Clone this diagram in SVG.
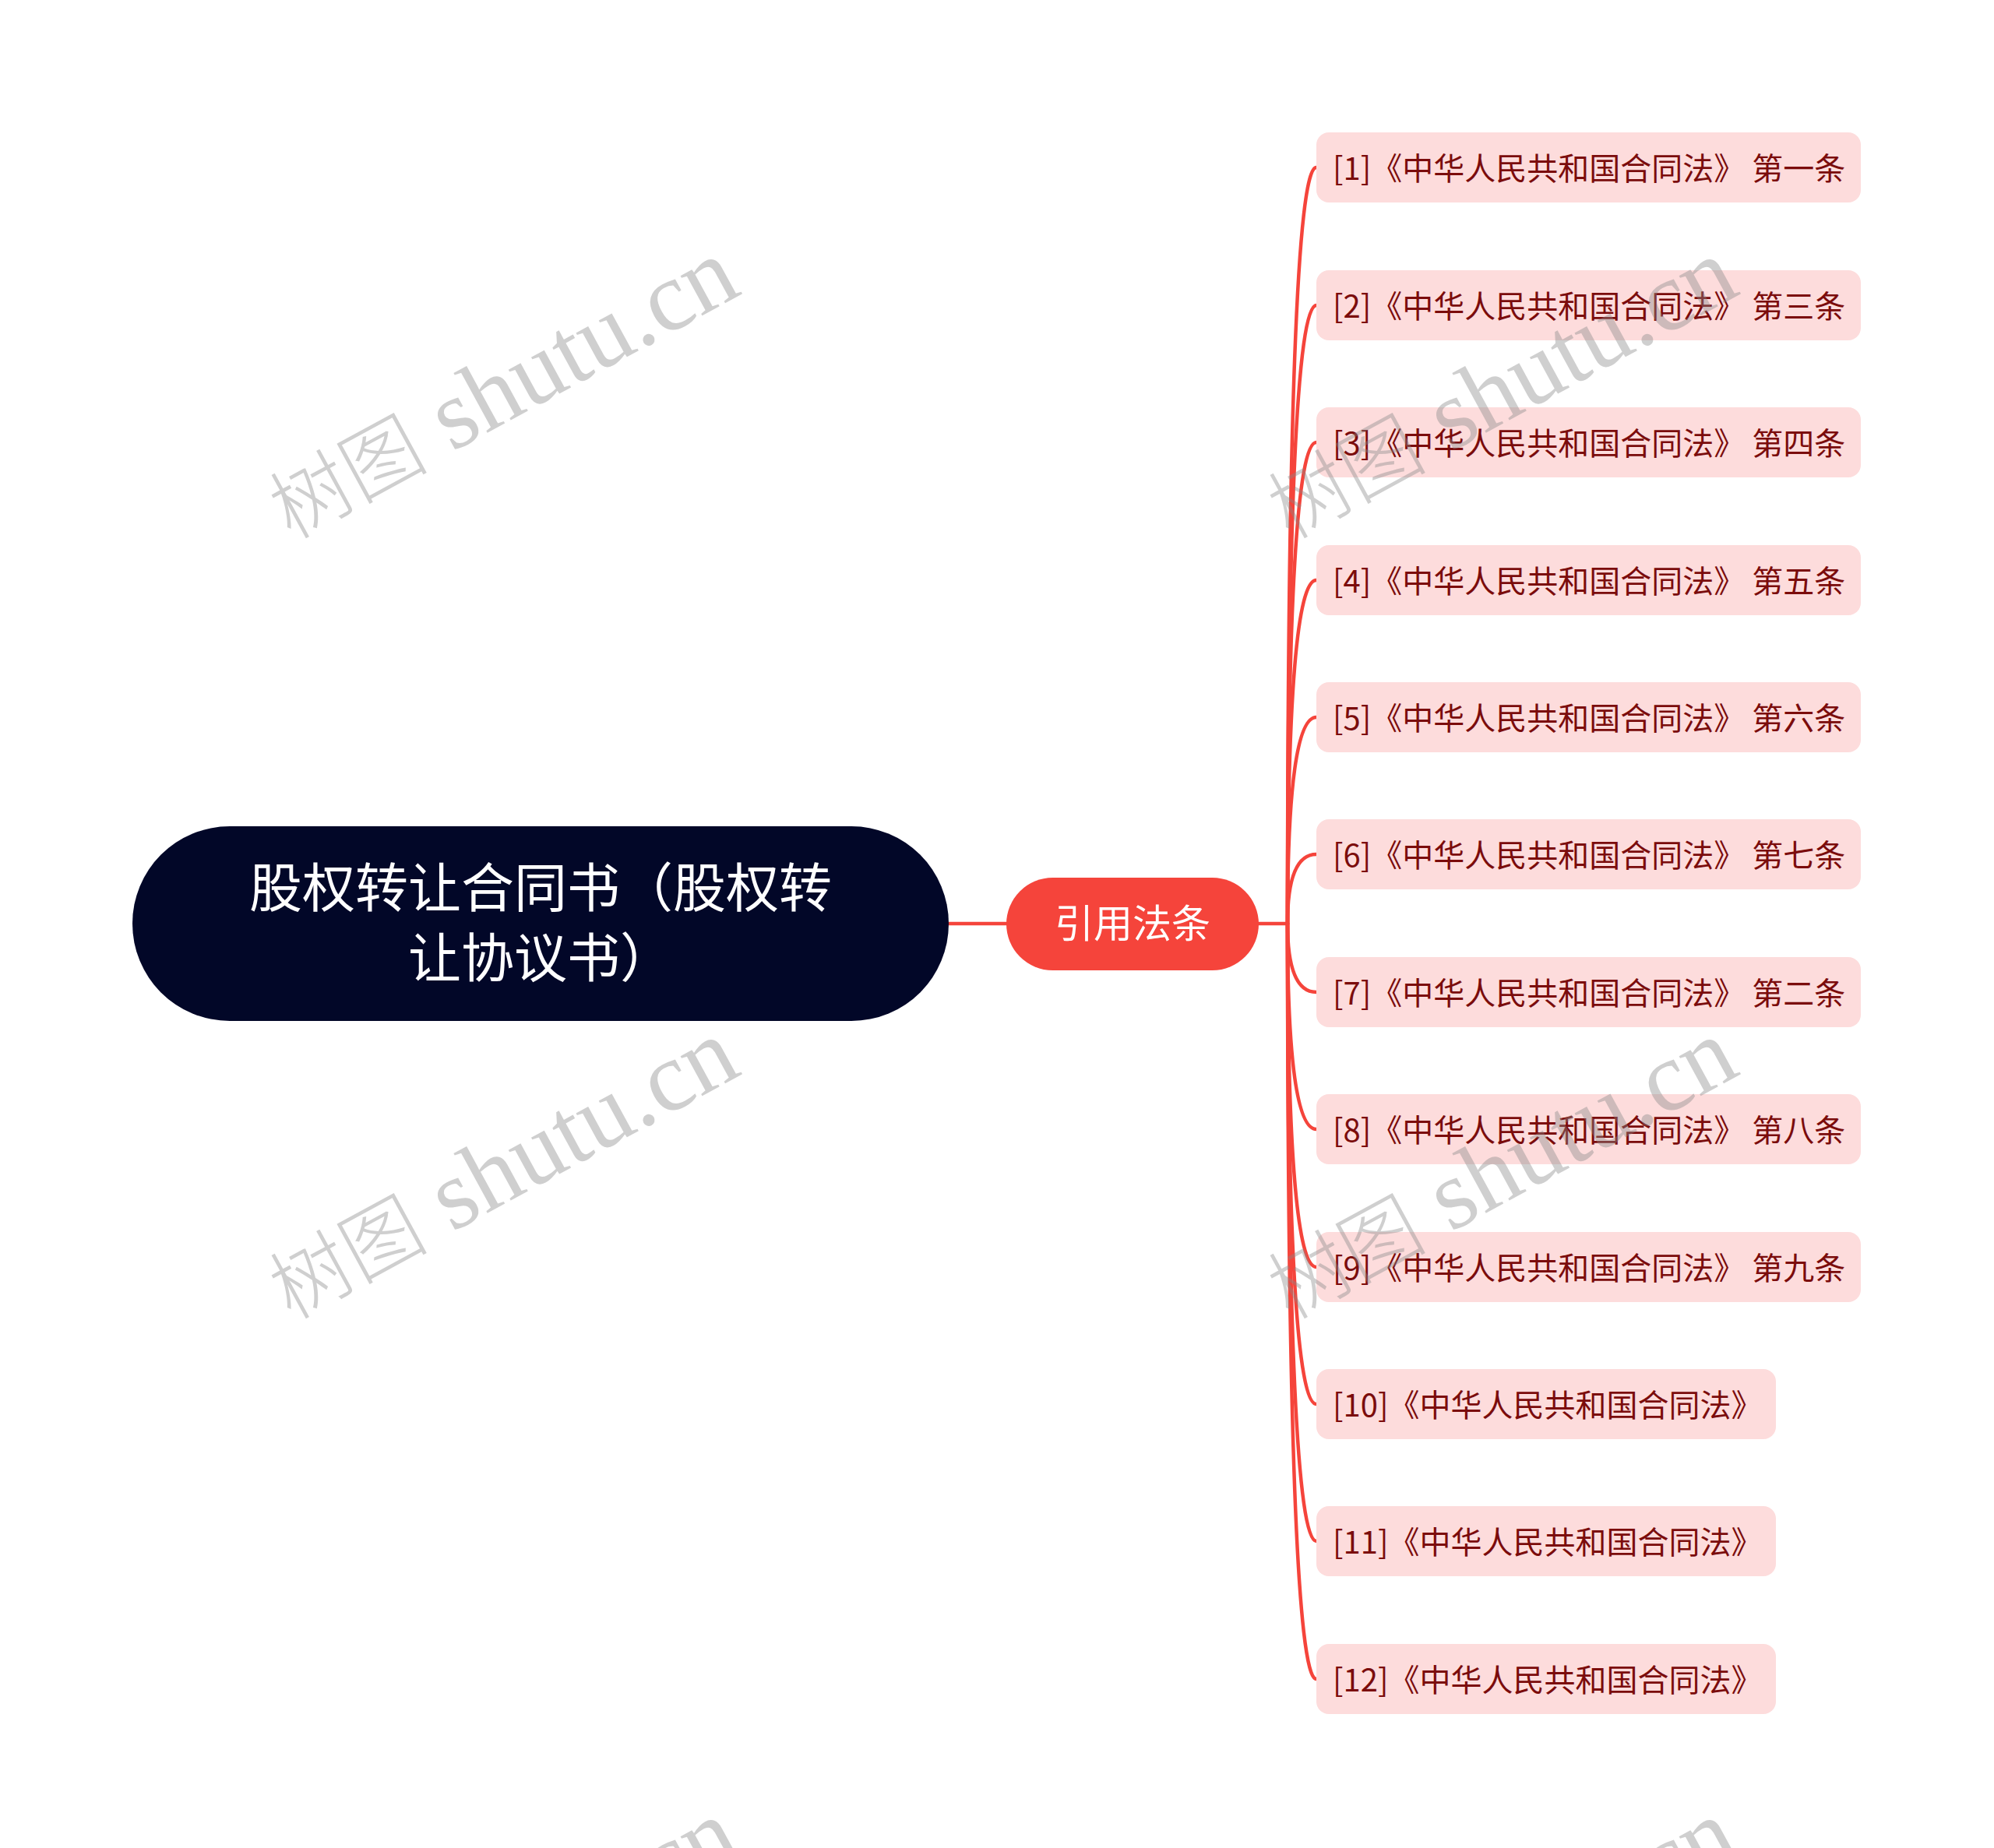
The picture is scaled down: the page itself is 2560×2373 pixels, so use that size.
<svg xmlns="http://www.w3.org/2000/svg" width="2560" height="2373" viewBox="0 0 2560 2373">
<style>
.cjk{font-family:"Noto Sans CJK SC","Noto Sans",sans-serif}
.root-bg{fill:#020728}
.root-tx{fill:#ffffff;font-size:68px;text-anchor:middle}
.mid-bg{fill:#f5443b}
.mid-tx{fill:#ffffff;font-size:50px;text-anchor:middle}
.leaf-bg{fill:#fddcdc}
.leaf-tx{fill:#7b0c0c;font-size:40px}
.conn{fill:none;stroke:#f5443b;stroke-width:4.5;stroke-linecap:round}
.wm{font-family:"Liberation Serif","Noto Sans CJK SC",serif;font-size:127px;fill:#888888;opacity:0.4;text-anchor:middle}
.wm .c{font-size:102px;font-weight:300}
</style>
<rect width="2560" height="2373" fill="#ffffff"/>
<g id="connectors">
<path class="conn" d="M1218 1186 L1292 1186"/>
<path class="conn" d="M1616 1186 L1653 1186"/>
<path class="conn" d="M1653 1186 Q1653 215 1690 215"/>
<path class="conn" d="M1653 1186 Q1653 392 1690 392"/>
<path class="conn" d="M1653 1186 Q1653 568 1690 568"/>
<path class="conn" d="M1653 1186 Q1653 745 1690 745"/>
<path class="conn" d="M1653 1186 Q1653 921 1690 921"/>
<path class="conn" d="M1653 1186 Q1653 1097 1690 1097"/>
<path class="conn" d="M1653 1186 Q1653 1274 1690 1274"/>
<path class="conn" d="M1653 1186 Q1653 1450 1690 1450"/>
<path class="conn" d="M1653 1186 Q1653 1627 1690 1627"/>
<path class="conn" d="M1653 1186 Q1653 1803 1690 1803"/>
<path class="conn" d="M1653 1186 Q1653 1979 1690 1979"/>
<path class="conn" d="M1653 1186 Q1653 2156 1690 2156"/>
</g>
<g id="root">
<rect class="root-bg" x="170" y="1061" width="1048" height="250" rx="125"/>
<text class="cjk root-tx" x="694" y="1165">股权转让合同书（股权转</text>
<text class="cjk root-tx" x="694" y="1255">让协议书）</text>
</g>
<g id="topic">
<rect class="mid-bg" x="1292" y="1127" width="324" height="119" rx="59.5"/>
<text class="cjk mid-tx" x="1454" y="1204">引用法条</text>
</g>
<g id="leaf1"><rect class="leaf-bg" x="1690" y="170" width="699" height="90" rx="16"/><text class="cjk leaf-tx" x="1711" y="231">[1]《中华人民共和国合同法》 第一条</text></g>
<g id="leaf2"><rect class="leaf-bg" x="1690" y="347" width="699" height="90" rx="16"/><text class="cjk leaf-tx" x="1711" y="408">[2]《中华人民共和国合同法》 第三条</text></g>
<g id="leaf3"><rect class="leaf-bg" x="1690" y="523" width="699" height="90" rx="16"/><text class="cjk leaf-tx" x="1711" y="584">[3]《中华人民共和国合同法》 第四条</text></g>
<g id="leaf4"><rect class="leaf-bg" x="1690" y="700" width="699" height="90" rx="16"/><text class="cjk leaf-tx" x="1711" y="761">[4]《中华人民共和国合同法》 第五条</text></g>
<g id="leaf5"><rect class="leaf-bg" x="1690" y="876" width="699" height="90" rx="16"/><text class="cjk leaf-tx" x="1711" y="937">[5]《中华人民共和国合同法》 第六条</text></g>
<g id="leaf6"><rect class="leaf-bg" x="1690" y="1052" width="699" height="90" rx="16"/><text class="cjk leaf-tx" x="1711" y="1113">[6]《中华人民共和国合同法》 第七条</text></g>
<g id="leaf7"><rect class="leaf-bg" x="1690" y="1229" width="699" height="90" rx="16"/><text class="cjk leaf-tx" x="1711" y="1290">[7]《中华人民共和国合同法》 第二条</text></g>
<g id="leaf8"><rect class="leaf-bg" x="1690" y="1405" width="699" height="90" rx="16"/><text class="cjk leaf-tx" x="1711" y="1466">[8]《中华人民共和国合同法》 第八条</text></g>
<g id="leaf9"><rect class="leaf-bg" x="1690" y="1582" width="699" height="90" rx="16"/><text class="cjk leaf-tx" x="1711" y="1643">[9]《中华人民共和国合同法》 第九条</text></g>
<g id="leaf10"><rect class="leaf-bg" x="1690" y="1758" width="590" height="90" rx="16"/><text class="cjk leaf-tx" x="1711" y="1819">[10]《中华人民共和国合同法》</text></g>
<g id="leaf11"><rect class="leaf-bg" x="1690" y="1934" width="590" height="90" rx="16"/><text class="cjk leaf-tx" x="1711" y="1995">[11]《中华人民共和国合同法》</text></g>
<g id="leaf12"><rect class="leaf-bg" x="1690" y="2111" width="590" height="90" rx="16"/><text class="cjk leaf-tx" x="1711" y="2172">[12]《中华人民共和国合同法》</text></g>
<g id="watermarks">
<text class="wm" transform="translate(664 535) rotate(-28.6)"><tspan class="c">树图</tspan> shutu.cn</text>
<text class="wm" transform="translate(1946 535) rotate(-28.6)"><tspan class="c">树图</tspan> shutu.cn</text>
<text class="wm" transform="translate(664 1537) rotate(-28.6)"><tspan class="c">树图</tspan> shutu.cn</text>
<text class="wm" transform="translate(1946 1537) rotate(-28.6)"><tspan class="c">树图</tspan> shutu.cn</text>
<text class="wm" transform="translate(664 2539) rotate(-28.6)"><tspan class="c">树图</tspan> shutu.cn</text>
<text class="wm" transform="translate(1946 2539) rotate(-28.6)"><tspan class="c">树图</tspan> shutu.cn</text>
</g>
</svg>
